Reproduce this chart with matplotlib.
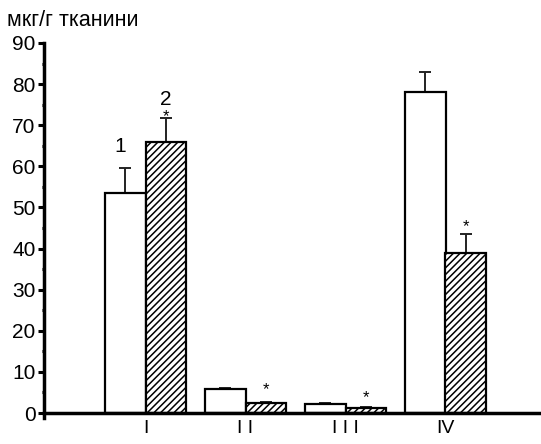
import matplotlib.pyplot as plt
import numpy as np

plt.rcParams['font.family'] = ['Liberation Sans', 'DejaVu Sans']
plt.rcParams['hatch.linewidth'] = 1.1

groups = ['I', 'I I', 'I I I', 'IV']
control = [53.6, 5.8, 2.3, 78.0]
control_err = [6.0, 0.3, 0.1, 5.0]
treated = [66.0, 2.4, 1.1, 38.9]
treated_err = [5.8, 0.2, 0.4, 4.6]
starred = [True, True, True, True]

fig = plt.figure(figsize=(5.41, 4.44), dpi=100)
ax = fig.add_axes([44 / 541, 31 / 444, 1 - 44 / 541, 370 / 444])

x = np.arange(1, len(groups) + 1)
w = 0.405

ax.bar(x - w / 2, control, w, color='white', edgecolor='black', linewidth=1.6, zorder=2)
ax.bar(x + w / 2, treated, w, color='white', edgecolor='black', linewidth=1.6,
       hatch='/////', zorder=2)

# upper half of the error bars only
ax.errorbar(x - w / 2, control, yerr=[np.zeros(4), control_err], fmt='none',
            ecolor='#222222', elinewidth=1.4, capsize=4, capthick=1.4, zorder=1)
ax.errorbar(x + w / 2, treated, yerr=[np.zeros(4), treated_err], fmt='none',
            ecolor='#222222', elinewidth=1.4, capsize=4, capthick=1.4, zorder=1)

# significance marks, hand-placed gap above each error cap
star_gap = [1.4, 4.3, 3.4, 3.0]
for xi, v, e, s, g in zip(x, treated, treated_err, starred, star_gap):
    if s:
        ax.text(xi + w / 2, v + e + g - 2.3, '*', ha='center', va='baseline', fontsize=12)

ax.text(x[0] - w / 2 - 0.05, 63.5, '1', ha='center', va='baseline', fontsize=15)
ax.text(x[0] + w / 2, 74.9, '2', ha='center', va='baseline', fontsize=15)

ax.set_xlim(-0.015, 4.955)
ax.set_ylim(0, 90)
ax.set_yticks(np.arange(0, 91, 10))
ax.set_yticks(np.arange(5, 90, 10), minor=True)
ax.set_xticks(x)
ax.set_xticklabels(groups, fontsize=14)
ax.tick_params(axis='x', length=0, pad=5)
ax.tick_params(axis='y', which='major', direction='out', length=4, width=2.2, labelsize=15, pad=2)
ax.tick_params(axis='y', which='minor', direction='out', length=1.5, width=2.2)

for side in ['top', 'right']:
    ax.spines[side].set_visible(False)
ax.spines['left'].set_linewidth(2.5)
ax.spines['bottom'].set_linewidth(2.5)
ax.spines['left'].set_bounds(-1.2, 90)

fig.text(7 / 541, 1 - 21 / 444, 'мкг/г тканини', fontsize=15.5, va='center', ha='left')

fig.savefig('out.png', dpi=100)
